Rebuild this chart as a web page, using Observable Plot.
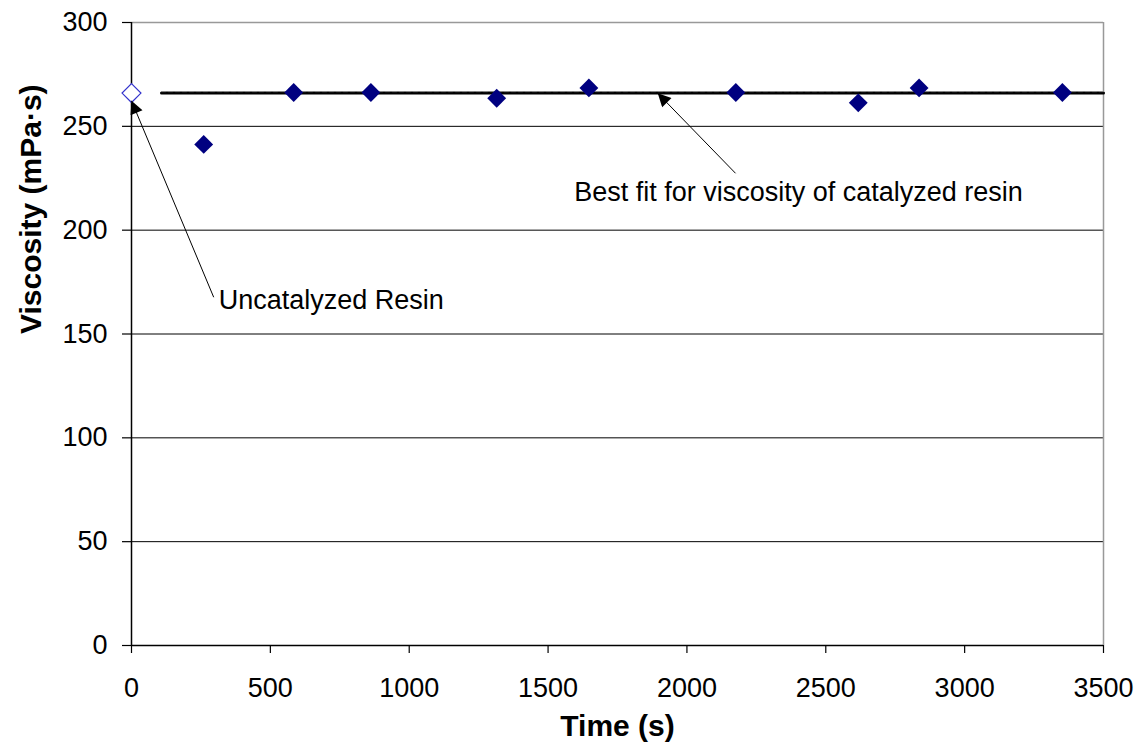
<!DOCTYPE html>
<html>
<head>
<meta charset="utf-8">
<script src="https://cdn.jsdelivr.net/npm/d3@7"></script>
<script src="https://cdn.jsdelivr.net/npm/@observablehq/plot@0.6"></script>
<style>
  html, body { margin: 0; padding: 0; background: #fff; }
  #chart svg { display: block; }
</style>
</head>
<body>
<div id="chart"></div>
<script>
// Catalyzed resin measurements
const times = [260, 584, 862, 1315, 1647, 2176, 2617, 2836, 3352];
const viscosity = [241.3, 266.3, 266.3, 263.5, 268.5, 266.3, 261.3, 268.5, 266.3];

// Uncatalyzed resin
const uncatTime = [0];
const uncatViscosity = [266];

// Best-fit line
const fitX = [108, 3500];
const fitY = [266, 266];

// Axis ticks
const xTicks = [0, 500, 1000, 1500, 2000, 2500, 3000, 3500];
const yTicks = [0, 50, 100, 150, 200, 250, 300];
const gridY = [50, 100, 150, 200, 250];

// Annotations
const annLabels = ["Uncatalyzed Resin", "Best fit for viscosity of catalyzed resin"];
const annTextX = [314, 1594];
const annTextY = [166, 218];
const annFromX = [296, 2175];
const annFromY = [167.7, 227.4];
const annToX = [0, 1895];
const annToY = [262.3, 265.9];

const pts = times.map((t, i) => ({t, v: viscosity[i]}));
const uncat = uncatTime.map((t, i) => ({t, v: uncatViscosity[i]}));
const fit = fitX.map((t, i) => ({t, v: fitY[i]}));
const ann = annLabels.map((label, i) => ({
  label, tx: annTextX[i], ty: annTextY[i],
  x1: annFromX[i], y1: annFromY[i], x2: annToX[i], y2: annToY[i]
}));

const font = "Liberation Sans, Arial, sans-serif";
const fmt = d => String(d);

const chart = Plot.plot({
  width: 1146,
  height: 752,
  marginLeft: 131,
  marginRight: 43,
  marginTop: 22,
  marginBottom: 107,
  style: {fontFamily: font, background: "#fff", color: "#000", overflow: "visible"},
  x: {domain: [0, 3500]},
  y: {domain: [0, 300]},
  marks: [
    Plot.ruleY(gridY, {stroke: "#000", strokeWidth: 1}),
    Plot.ruleY([300], {stroke: "#999", strokeWidth: 1.5}),
    Plot.ruleX([3500], {stroke: "#999", strokeWidth: 1.5}),
    Plot.axisX({ticks: xTicks, tickFormat: fmt, tickSize: 8, tickPadding: 24, fontSize: 27, label: null, stroke: "#000", strokeWidth: 1.2}),
    Plot.axisY({ticks: yTicks, tickFormat: fmt, tickSize: 9, tickPadding: 15, fontSize: 27, label: null, stroke: "#000", strokeWidth: 1.2}),
    Plot.ruleX([0], {stroke: "#000", strokeWidth: 1.5}),
    Plot.ruleY([0], {stroke: "#000", strokeWidth: 1.5}),
    Plot.line(fit, {x: "t", y: "v", stroke: "#000", strokeWidth: 3}),
    Plot.line(fit, {x: "t", y: "v", stroke: "#888", strokeWidth: 1, strokeDasharray: "4,3", dy: -1.5}),
    Plot.dot(pts, {x: "t", y: "v", symbol: "diamond2", r: 8.5, fill: "#000080", stroke: "none"}),
    Plot.dot(uncat, {x: "t", y: "v", symbol: "diamond2", r: 8.5, fill: "#fff", stroke: "#3333cc", strokeWidth: 1.2}),
    Plot.link(ann, {x1: "x1", y1: "y1", x2: "x2", y2: "y2", stroke: "#000", strokeWidth: 1}),
    Plot.text(ann, {x: "tx", y: "ty", text: "label", textAnchor: "start", lineAnchor: "middle", fontSize: 27, fill: "#000"}),
    Plot.text(["Time (s)"], {frameAnchor: "bottom", dy: 90, fontSize: 30, fontWeight: "bold", fill: "#000"}),
    Plot.text(["Viscosity (mPa·s)"], {frameAnchor: "left", dx: -100, rotate: -90, fontSize: 30, fontWeight: "bold", fill: "#000"})
  ]
});

// Filled arrowheads for annotation links
const svg = d3.select(chart);
const defs = svg.insert("defs", ":first-child");
defs.append("marker")
  .attr("id", "filled-arrow")
  .attr("viewBox", "0 0 10 10")
  .attr("refX", 10).attr("refY", 5)
  .attr("markerWidth", 18).attr("markerHeight", 13)
  .attr("markerUnits", "userSpaceOnUse")
  .attr("orient", "auto")
  .append("path").attr("d", "M0,0L10,5L0,10Z").attr("fill", "#000");
svg.selectAll('g[aria-label="link"] path').attr("marker-end", "url(#filled-arrow)");

document.getElementById("chart").appendChild(chart);
</script>
</body>
</html>
